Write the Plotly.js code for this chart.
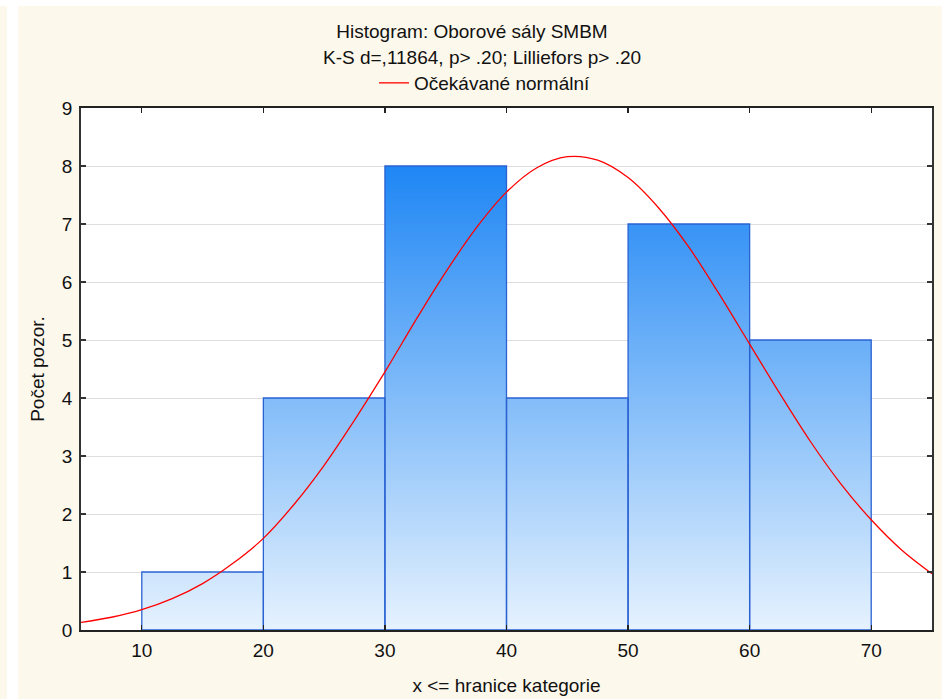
<!DOCTYPE html>
<html>
<head>
<meta charset="utf-8">
<script src="https://cdn.plot.ly/plotly-3.0.1.min.js"></script>
<style>
  html, body { margin: 0; padding: 0; background: #fdf8ec; }
  #wrap { position: relative; width: 945px; height: 699px; }
  #chart { width: 945px; height: 699px; }
  .strip { position: absolute; background: #ffffff; }
</style>
</head>
<body>
<div id="wrap">
  <div id="chart"></div>
  <div class="strip" style="left:7px;top:0;width:11px;height:699px;"></div>
  <div class="strip" style="left:0;top:0;width:945px;height:6px;"></div>
  <div class="strip" style="left:942px;top:0;width:3px;height:699px;"></div>
</div>
<script>
// ---- data ----
const binEdges = [10, 20, 30, 40, 50, 60, 70];
const counts = [1, 4, 8, 4, 7, 5];

// Expected normal curve
const curveX = [5, 7.5, 10, 12.5, 15, 17.5, 20, 22.5, 25, 27.5, 30, 32.5, 35, 37.5, 40,
                42.5, 45, 47.5, 50, 52.5, 55, 57.5, 60, 62.5, 65, 67.5, 70, 72.5, 75];
const curveY = [0.13, 0.22, 0.35, 0.54, 0.80, 1.15, 1.58, 2.16, 2.84, 3.62, 4.45, 5.33, 6.17, 6.93, 7.55,
                7.97, 8.16, 8.10, 7.80, 7.28, 6.60, 5.79, 4.93, 4.07, 3.25, 2.52, 1.90, 1.38, 0.97];

const xTicks = [10, 20, 30, 40, 50, 60, 70];
const yTicks = [0, 1, 2, 3, 4, 5, 6, 7, 8, 9];

const titleText = "Histogram: Oborové sály SMBM";
const subtitleText = "K-S d=,11864, p> .20; Lilliefors p> .20";
const legendName = "Očekávané normální";
const xTitle = "x <= hranice kategorie";
const yTitle = "Počet pozor.";

// ---- build bar outlines from bins ----
const bx = [], by = [];
for (let i = 0; i < counts.length; i++) {
  bx.push(binEdges[i], binEdges[i], binEdges[i + 1], binEdges[i + 1], binEdges[i], null);
  by.push(0, counts[i], counts[i], 0, 0, null);
}
const maxCount = Math.max(...counts);

const bars = {
  type: 'scatter', mode: 'lines', x: bx, y: by,
  fill: 'toself',
  fillgradient: {
    type: 'vertical',
    colorscale: [[0, '#e6f2fe'], [1, '#1e86f4']],
    start: 0, stop: maxCount
  },
  line: { color: '#2a62d2', width: 1.3 },
  showlegend: false, hoverinfo: 'skip'
};

const curve = {
  type: 'scatter', mode: 'lines', x: curveX, y: curveY,
  line: { color: '#ff0000', width: 1.3, shape: 'spline', smoothing: 1 },
  name: legendName, showlegend: true
};

const fontFam = '"Liberation Sans", Arial, sans-serif';
const fs = 19;

const layout = {
  width: 945, height: 699,
  paper_bgcolor: '#fdf8ec',
  plot_bgcolor: '#ffffff',
  margin: { l: 81, r: 13, t: 108, b: 69 },
  font: { family: fontFam, color: '#111111', size: fs },
  title: {
    text: titleText,
    font: { family: fontFam, size: fs, color: '#111111' },
    xref: 'container', yref: 'container',
    x: 472 / 945, xanchor: 'center',
    y: 1 - 31 / 699, yanchor: 'middle'
  },
  annotations: [{
    text: subtitleText, showarrow: false,
    xref: 'paper', yref: 'paper',
    x: (482 - 81) / 851, xanchor: 'center',
    y: (630 - 57) / 522, yanchor: 'middle',
    font: { family: fontFam, size: fs, color: '#111111' }
  }],
  showlegend: true,
  legend: {
    x: (485 - 81) / 851, xanchor: 'center',
    y: (630 - 83) / 522, yanchor: 'middle',
    orientation: 'h',
    bgcolor: 'rgba(0,0,0,0)',
    font: { family: fontFam, size: fs, color: '#111111' },
    itemwidth: 30
  },
  xaxis: {
    range: [5, 75], tickvals: xTicks, ticktext: xTicks.map(String),
    showgrid: false, zeroline: false,
    showline: true, linecolor: '#222222', linewidth: 1.6, mirror: 'ticks',
    ticks: 'inside', ticklen: 5, tickcolor: '#222222', tickwidth: 1.2,
    tickfont: { family: fontFam, size: fs, color: '#111111' },
    ticklabelstandoff: 3,
    title: { text: xTitle, font: { family: fontFam, size: fs, color: '#111111' }, standoff: 18 },
    automargin: false
  },
  yaxis: {
    range: [0, 9], tickvals: yTicks, ticktext: yTicks.map(String),
    showgrid: true, gridcolor: '#dedede', gridwidth: 1,
    zeroline: false,
    showline: true, linecolor: '#333333', linewidth: 1.8, mirror: 'ticks',
    ticks: 'inside', ticklen: 5, tickcolor: '#333333', tickwidth: 1.2,
    tickfont: { family: fontFam, size: fs, color: '#111111' },
    ticklabelstandoff: 3,
    title: { text: yTitle, font: { family: fontFam, size: fs, color: '#111111' }, standoff: 12 },
    automargin: false
  }
};

Plotly.newPlot('chart', [bars, curve], layout, { displayModeBar: false, staticPlot: true });
</script>
</body>
</html>
